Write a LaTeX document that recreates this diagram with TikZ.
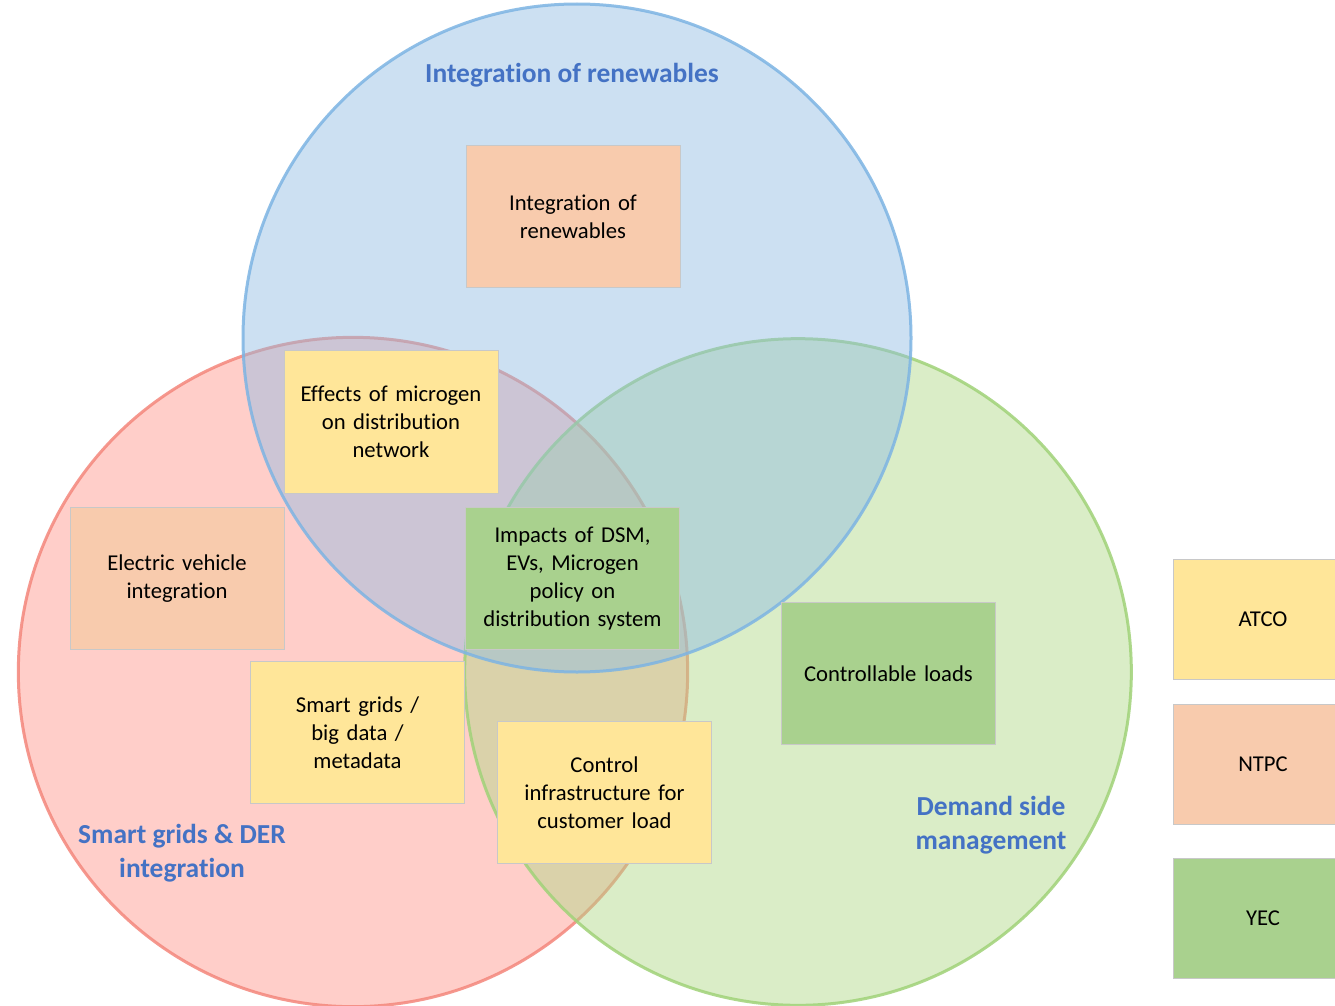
\documentclass[tikz,border=0pt]{standalone}
\usepackage{fontspec}
\setmainfont{Carlito}[Ligatures=NoCommon]
\definecolor{cblue}{RGB}{142,188,228}
\definecolor{cred}{RGB}{255,148,137}
\definecolor{cgreen}{RGB}{173,217,133}
\definecolor{sblue}{RGB}{125,180,227}
\definecolor{sred}{RGB}{244,135,124}
\definecolor{sgreen}{RGB}{160,210,120}
\definecolor{peach}{RGB}{248,203,173}
\definecolor{yel}{RGB}{255,230,153}
\definecolor{grn}{RGB}{169,209,142}
\definecolor{bord}{RGB}{200,200,200}
\definecolor{lab}{RGB}{68,114,196}
\tikzset{
  venn/.style={line width=2.25pt, fill opacity=0.45, draw opacity=0.85},
  box/.style={draw=bord, line width=0.75pt, minimum width=160.5pt, minimum height=107pt,
    text width=150pt, align=center, inner sep=0pt,
    font=\fontsize{17}{21}\selectfont},
  legbox/.style={box, minimum width=135pt, minimum height=90pt, text width=120pt},
  setlabel/.style={text=lab, align=center, font=\fontsize{20.6}{25.5}\selectfont\bfseries}
}
\begin{document}
\begin{tikzpicture}[x=0.75pt,y=-0.75pt]
\useasboundingbox (0,0) rectangle (1335,1006);
\clip (0,0) rectangle (1335,1006);
\fill[white] (0,0) rectangle (1335,1006);
% circles
\path[venn, draw=sred, fill=cred] (353,672) circle[radius=251pt];
\path[venn, draw=sgreen, fill=cgreen] (798,672) circle[radius=250pt];
\path[venn, draw=sblue, fill=cblue] (577,338) circle[radius=250.5pt];
% set labels
\node[setlabel] (lren) at (572,75) {Integration of renewables};
\node[setlabel] (lsg) at (182,853) {Smart grids \& DER\\integration};
\node[setlabel] (ldsm) at (991,825) {Demand side\\management};
% boxes
\node[box, fill=peach] (ren) at (573,216.5) {Integration of\\renewables};
\node[box, fill=yel] (eff) at (391,422) {Effects of microgen\\on distribution\\network};
\node[box, fill=peach] (ev) at (177,578.5) {Electric vehicle\\integration};
\node[box, fill=grn] (imp) at (572.5,578.5) {Impacts of DSM,\\EVs, Microgen\\policy on\\distribution system};
\node[box, fill=yel] (sg) at (357.5,732.5) {Smart grids /\\big data /\\metadata};
\node[box, fill=yel] (ctl) at (604.5,792.5) {Control\\infrastructure for\\customer load};
\node[box, fill=grn] (cl) at (888.5,673.5) {Controllable loads};
% legend
\node[legbox, fill=yel] (atco) at (1263,619) {ATCO};
\node[legbox, fill=peach] (ntpc) at (1263,764.5) {NTPC};
\node[legbox, fill=grn] (yec) at (1263,918) {YEC};
\end{tikzpicture}
\end{document}
